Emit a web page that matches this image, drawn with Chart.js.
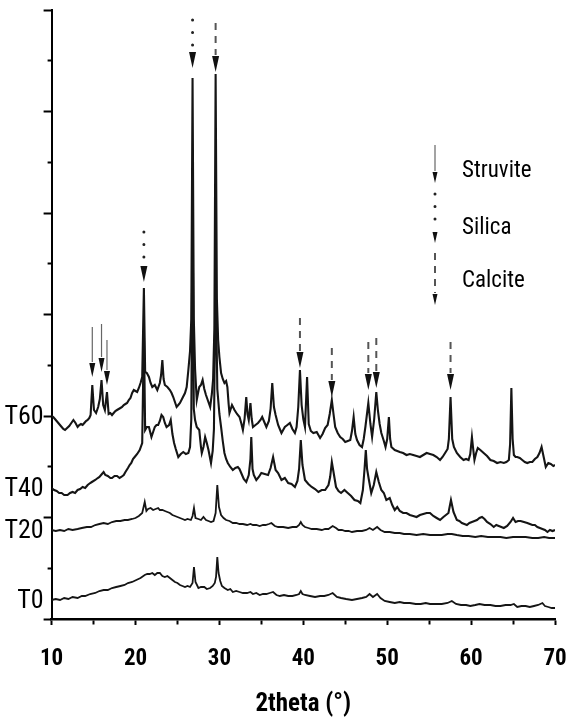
<!DOCTYPE html>
<html><head><meta charset="utf-8">
<script src="https://cdn.jsdelivr.net/npm/chart.js@4.4.1/dist/chart.umd.min.js"></script>
<style>html,body{margin:0;padding:0;background:#fff;}canvas{display:block;}</style>
</head><body>
<canvas id="c" width="566" height="717"></canvas>
<script>
// ---- data (2theta in degrees, intensity in arbitrary units, stacked offsets included) ----
const xTickLabels = [10, 20, 30, 40, 50, 60, 70];
const sampleNames = ['T0', 'T20', 'T40', 'T60'];
const T0 = [[10,19],[10.5,20],[11,19],[11.5,21],[12,20],[12.5,22],[13.1,21],[13.6,23],[14,23],[14.6,25],[15.2,26],[15.7,28],[16.2,29],[16.7,29],[17.2,31],[17.7,32],[18.2,33],[18.7,34],[19.1,36],[19.6,37],[20.1,39],[20.6,41],[21.1,44],[21.4,45],[21.7,45],[22,46],[22.3,44],[22.6,46],[22.9,46],[23.2,43],[23.5,42],[23.8,43],[24.1,41],[24.4,39],[24.7,37],[25,36],[25.3,34],[25.6,33],[25.9,32],[26.2,33],[26.5,32],[26.8,36],[26.97,52],[27.15,37],[27.5,31],[27.8,32],[28.2,32],[28.5,30],[28.9,31],[29.2,33],[29.45,36],[29.6,42],[29.75,62],[29.9,46],[30.1,38],[30.3,33],[30.6,31],[31,29],[31.3,30],[31.6,27],[32,28],[32.4,27],[32.8,26],[33.3,26],[33.7,27],[34,25],[34.4,26],[34.8,24],[35.2,25],[35.6,25],[36,26],[36.4,27],[36.8,24],[37.2,23],[37.7,24],[38.2,23],[38.7,23],[39.2,24],[39.5,25],[39.7,28],[39.9,25],[40.2,24],[40.8,23],[41.4,22],[42,23],[42.5,23],[43,24],[43.5,26],[44,22],[44.5,21],[45.1,20],[45.8,19],[46.4,20],[47,21],[47.5,22],[47.9,25],[48.3,22],[48.8,25],[49.2,21],[49.7,18],[50.3,17],[50.9,16],[51.5,17],[52,16],[52.7,16],[53.4,15],[54,15],[54.6,16],[55.1,15],[55.8,15],[56.5,15],[57.2,16],[57.7,18],[58.2,15],[58.8,14],[59.4,14],[59.9,13],[60.5,14],[61,15],[61.6,14],[62.3,14],[62.9,13],[63.5,13],[64.1,14],[64.7,14],[65.1,15],[65.5,12],[66,13],[66.5,13],[67,12],[67.5,13],[68,14],[68.5,16],[68.8,13],[69.2,12],[69.6,11],[70,11]];
const T20 = [[10,89],[10.5,88],[11,89],[11.5,88],[12,90],[12.5,89],[13.1,90],[13.6,91],[14.2,92],[14.7,92],[15.2,94],[15.7,95],[16.2,96],[16.7,95],[17.2,97],[17.7,98],[18.2,98],[18.7,99],[19.1,99],[19.6,100],[20,101],[20.4,103],[20.8,106],[21.1,117],[21.3,108],[21.5,110],[21.8,111],[22.1,109],[22.4,110],[22.7,111],[22.9,109],[23.2,109],[23.5,108],[23.8,107],[24.1,106],[24.4,104],[24.7,103],[25,102],[25.3,101],[25.6,100],[25.9,99],[26.2,100],[26.6,99],[26.8,103],[26.97,111],[27.15,101],[27.5,100],[27.8,99],[28.1,102],[28.4,99],[28.7,98],[29,97],[29.3,98],[29.55,106],[29.75,134],[29.95,112],[30.2,104],[30.5,101],[30.8,99],[31.2,98],[31.6,96],[32,96],[32.4,95],[32.8,95],[33.3,94],[33.7,95],[34,94],[34.4,94],[34.8,93],[35.2,94],[35.5,94],[35.9,95],[36.2,96],[36.6,93],[37,92],[37.6,92],[38.2,91],[38.7,92],[39.2,92],[39.5,94],[39.7,97],[39.9,94],[40.2,92],[40.6,91],[41,90],[41.6,90],[42.2,89],[42.6,90],[43,90],[43.5,93],[43.9,91],[44.2,89],[44.6,89],[45,88],[45.4,88],[45.8,87],[46.4,88],[47,88],[47.5,89],[47.9,91],[48.3,89],[48.8,92],[49.2,89],[49.7,87],[50.3,87],[50.9,86],[51.5,86],[52,85],[52.7,85],[53.5,84],[54.3,85],[55.1,84],[55.8,84],[56.5,84],[57.2,85],[57.7,85],[58.3,84],[59,83],[59.7,83],[60.5,82],[61.2,83],[62,82],[62.7,82],[63.5,82],[64.2,81],[65,82],[65.7,82],[66.5,82],[67.3,81],[68,81],[68.7,82],[69.3,81],[70,81]];
const T40 = [[10,131],[10.3,129],[10.6,128],[10.9,126],[11.2,126],[11.5,124],[11.9,124],[12.2,126],[12.5,127],[12.8,126],[13.1,129],[13.4,130],[13.7,132],[14,131],[14.3,134],[14.6,136],[14.8,137],[15.2,139],[15.5,141],[15.7,142],[16,145],[16.2,147],[16.4,144],[16.7,143],[17,141],[17.2,141],[17.5,143],[17.8,143],[18.1,141],[18.3,142],[18.6,144],[18.8,147],[19.1,151],[19.3,154],[19.5,156],[19.7,160],[19.9,162],[20.2,165],[20.5,169],[20.8,176],[21,289],[21.15,189],[21.35,192],[21.6,192],[21.9,182],[22.1,187],[22.3,192],[22.5,194],[22.7,194],[22.9,198],[23.1,204],[23.3,202],[23.5,196],[23.7,192],[24,194],[24.2,199],[24.4,185],[24.6,176],[24.8,170],[25.1,162],[25.4,165],[25.7,167],[26,165],[26.3,166],[26.5,172],[26.65,200],[26.8,419],[26.95,210],[27.1,199],[27.3,192],[27.6,189],[27.8,172],[27.9,166],[28.1,172],[28.3,182],[28.5,176],[28.7,169],[29,156],[29.2,168],[29.35,190],[29.55,351],[29.75,230],[30,205],[30.2,192],[30.4,178],[30.6,166],[30.8,160],[31,156],[31.3,152],[31.6,149],[31.9,151],[32.2,152],[32.4,150],[32.6,146],[32.9,140],[33.2,137],[33.5,144],[33.7,160],[33.8,182],[33.95,150],[34.1,144],[34.4,139],[34.7,142],[35,146],[35.4,145],[35.8,144],[36.1,151],[36.4,162],[36.7,149],[37,146],[37.4,139],[37.8,141],[38.2,136],[38.6,135],[39,132],[39.3,138],[39.5,150],[39.7,179],[39.9,154],[40.2,139],[40.6,135],[41,132],[41.4,130],[41.8,127],[42.2,129],[42.6,129],[43,134],[43.2,142],[43.4,157],[43.6,147],[43.9,132],[44.2,128],[44.5,126],[44.9,129],[45.3,126],[45.7,123],[46.1,119],[46.5,118],[46.8,116],[47.1,129],[47.3,150],[47.45,169],[47.6,150],[47.8,140],[48.1,126],[48.4,134],[48.7,147],[49,137],[49.3,129],[49.6,126],[49.9,119],[50.3,121],[50.6,114],[50.9,109],[51.2,112],[51.5,108],[51.9,106],[52.3,106],[52.7,104],[53.1,103],[53.5,102],[53.9,104],[54.3,105],[54.7,106],[55.1,106],[55.5,103],[55.9,101],[56.3,99],[56.7,102],[57,104],[57.3,106],[57.6,119],[57.9,107],[58.3,99],[58.6,98],[58.9,96],[59.2,95],[59.5,94],[59.8,96],[60.1,97],[60.4,98],[60.7,99],[61,101],[61.3,102],[61.6,100],[61.9,97],[62.3,95],[62.7,92],[63,94],[63.3,93],[63.6,92],[63.9,91],[64.3,93],[64.7,97],[65,101],[65.3,97],[65.6,98],[65.9,98],[66.3,97],[66.7,96],[67,95],[67.3,94],[67.6,94],[67.9,92],[68.2,91],[68.5,90],[68.8,89],[69.1,87],[69.4,89],[69.7,88],[70,89]];
const T60 = [[10,203],[10.2,202],[10.4,200],[10.6,198],[10.8,196],[11,194],[11.2,192],[11.4,190],[11.6,189],[11.85,191],[12.1,193],[12.35,196],[12.6,199],[12.85,196],[13.1,192],[13.3,194],[13.5,195],[13.7,194],[13.9,196],[14.1,198],[14.3,199],[14.5,201],[14.65,204],[14.85,234],[15.05,209],[15.3,206],[15.55,212],[15.75,220],[15.95,239],[16.15,214],[16.35,209],[16.6,227],[16.8,205],[17,206],[17.2,204],[17.4,206],[17.6,208],[17.8,209],[18,210],[18.2,211],[18.4,212],[18.6,214],[18.8,215],[19,216],[19.2,219],[19.4,221],[19.6,226],[19.8,229],[20,228],[20.2,227],[20.4,231],[20.6,236],[20.8,242],[21,331],[21.15,247],[21.35,246],[21.6,242],[21.8,236],[22,232],[22.3,234],[22.6,229],[22.9,236],[23.05,244],[23.2,259],[23.35,240],[23.5,234],[23.8,232],[24.1,229],[24.3,226],[24.5,222],[24.7,217],[24.9,212],[25.1,214],[25.3,216],[25.6,221],[25.9,226],[26.1,232],[26.3,249],[26.5,268],[26.65,300],[26.8,541],[26.95,300],[27.1,250],[27.3,219],[27.5,228],[27.6,232],[27.8,234],[28,239],[28.2,230],[28.4,224],[28.65,218],[28.9,212],[29.1,225],[29.25,240],[29.4,290],[29.55,545],[29.7,320],[29.85,279],[30,262],[30.2,246],[30.4,240],[30.6,236],[30.8,238],[30.95,232],[31.1,215],[31.2,206],[31.5,214],[31.8,209],[32.1,205],[32.4,202],[32.6,196],[32.8,189],[33,200],[33.2,222],[33.35,205],[33.5,199],[33.7,216],[33.85,200],[34,192],[34.3,194],[34.6,196],[34.9,199],[35.1,202],[35.4,196],[35.6,192],[35.9,198],[36.1,210],[36.3,236],[36.5,212],[36.7,204],[37,194],[37.2,190],[37.4,186],[37.6,189],[37.8,192],[38.1,194],[38.4,196],[38.7,190],[39,186],[39.2,192],[39.4,212],[39.6,249],[39.8,214],[40,200],[40.2,192],[40.45,242],[40.65,195],[40.9,188],[41.2,186],[41.6,187],[42,181],[42.3,185],[42.6,191],[42.9,194],[43.15,205],[43.4,219],[43.6,205],[43.8,192],[44.1,186],[44.4,182],[44.7,180],[45,177],[45.3,178],[45.6,179],[45.8,188],[46,202],[46.2,185],[46.4,179],[46.7,174],[47,172],[47.2,180],[47.4,192],[47.75,216],[48,195],[48.2,182],[48.45,200],[48.7,227],[48.9,208],[49.1,195],[49.3,186],[49.6,178],[49.8,172],[50,180],[50.2,202],[50.35,180],[50.5,172],[50.9,169],[51.2,168],[51.5,167],[51.9,166],[52.3,164],[52.7,165],[53.1,164],[53.5,163],[53.9,162],[54.3,164],[54.7,166],[55.1,165],[55.5,164],[55.9,162],[56.3,159],[56.6,162],[56.9,166],[57.2,170],[57.35,180],[57.55,222],[57.75,180],[57.95,172],[58.3,166],[58.7,162],[59.1,159],[59.4,160],[59.7,159],[59.9,165],[60.1,182],[60.25,170],[60.4,159],[60.6,166],[60.8,171],[61.1,169],[61.5,166],[61.9,163],[62.3,159],[62.7,158],[63.1,156],[63.5,157],[63.9,156],[64.2,157],[64.5,159],[64.65,175],[64.8,231],[64.95,180],[65.1,164],[65.3,162],[65.5,162],[65.8,161],[66.1,159],[66.4,157],[66.7,156],[67,157],[67.3,157],[67.6,160],[67.9,162],[68.15,166],[68.4,172],[68.65,162],[68.9,152],[69.2,156],[69.5,155],[69.8,153],[70,154]];
// phase markers: [2theta, tail intensity, tip intensity]
const struviteArrows = [[14.85,292,242],[15.95,295,247],[16.6,279,234]];
const silicaArrows = [[21.0,387,337],[26.8,599,551]];
const calciteArrows = [[29.55,596,547],[39.6,301,251],[43.4,271,222],[47.75,277,229],[48.7,281,231],[57.55,277,229]];
const legendNames = ['Struvite','Silica','Calcite'];
const yMax = 609, yTickCount = 12;

// ---- font choice: condensed Arial-like if present ----
function fontAvailable(name){
  const c=document.createElement('canvas').getContext('2d');
  const s='Struvite Calcite 2theta T60 0123456789';
  c.font='40px monospace'; const w1=c.measureText(s).width;
  c.font='40px "'+name+'", monospace'; const w2=c.measureText(s).width;
  c.font='40px serif'; const w3=c.measureText(s).width;
  c.font='40px "'+name+'", serif'; const w4=c.measureText(s).width;
  return (w1!==w2) || (w3!==w4);
}
const cands=['Liberation Sans Narrow','Arial Narrow','Roboto Condensed'];
const found=cands.filter(fontAvailable);
const FAM = found.length ? ('"'+found[0]+'", "Liberation Sans", Arial, sans-serif') : '"Liberation Sans", Arial, sans-serif';

const toXY = arr => arr.map(p => ({x:p[0], y:p[1]}));
const series = [T0, T20, T40, T60];
const widths = [1.8, 1.8, 2.1, 2.1];

const overlay = {
  id:'overlay',
  afterDatasetsDraw(chart){
    const {ctx, scales:{x, y}} = chart;
    function arrow(px, pTail, pTip, style, hw, hh){
      ctx.save();
      if(style==='solid'){ctx.strokeStyle='#666';ctx.lineWidth=1.2;ctx.setLineDash([]);}
      else if(style==='dotted'){ctx.strokeStyle='#222';ctx.lineWidth=3;ctx.lineCap='round';ctx.setLineDash([0.01,12.5]);}
      else {ctx.strokeStyle='#555';ctx.lineWidth=2;ctx.setLineDash([7,6]);}
      ctx.beginPath();ctx.moveTo(px,pTail);ctx.lineTo(px,pTip-hh-1);ctx.stroke();
      ctx.setLineDash([]);ctx.fillStyle='#111';
      ctx.beginPath();ctx.moveTo(px-hw/2,pTip-hh);ctx.lineTo(px+hw/2,pTip-hh);ctx.lineTo(px,pTip);ctx.closePath();ctx.fill();
      ctx.restore();
    }
    struviteArrows.forEach(a=>arrow(x.getPixelForValue(a[0]),y.getPixelForValue(a[1]),y.getPixelForValue(a[2]),'solid',6,14));
    silicaArrows.forEach(a=>arrow(x.getPixelForValue(a[0]),y.getPixelForValue(a[1]),y.getPixelForValue(a[2]),'dotted',7,16));
    calciteArrows.forEach(a=>arrow(x.getPixelForValue(a[0]),y.getPixelForValue(a[1]),y.getPixelForValue(a[2]),'dashed',7,16));
    // sample labels at start of each trace
    ctx.save();
    ctx.fillStyle='#000';ctx.font='26px '+FAM;ctx.textAlign='right';ctx.textBaseline='middle';
    series.forEach((s,i)=>ctx.fillText(sampleNames[i], chart.chartArea.left-8, y.getPixelForValue(s[0][1])+1));
    ctx.restore();
    // legend
    const lx = 435, tx = 462;
    const rows = [{style:'solid',t:145,tip:183,ty:170},{style:'dotted',t:194,tip:243,ty:227},{style:'dashed',t:253,tip:305,ty:280}];
    rows.forEach((r,i)=>{
      arrow(lx, r.t, r.tip, r.style, 5, 11);
      ctx.save();ctx.fillStyle='#000';ctx.font='23px '+FAM;ctx.textAlign='left';ctx.textBaseline='middle';
      ctx.fillText(legendNames[i], tx, r.ty+1);ctx.restore();
    });
  }
};

new Chart(document.getElementById('c'), {
  type:'line',
  data:{datasets: series.map((s,i)=>({label:sampleNames[i], data:toXY(s), borderColor:'#151515', borderWidth:widths[i], pointRadius:0, tension:0, fill:false}))},
  options:{
    responsive:false, animation:false, events:[],
    layout:{padding:{top:10,right:11,left:0,bottom:0}},
    plugins:{legend:{display:false}, tooltip:{enabled:false}},
    scales:{
      x:{type:'linear', min:10, max:70,
        ticks:{stepSize:5, autoSkip:false, maxRotation:0, padding:20, color:'#000',
          font:{family:FAM, size:23, weight:'bold'},
          callback:v=> xTickLabels.includes(v) ? String(v) : ''},
        grid:{drawOnChartArea:false, tickLength:6, tickWidth:2, tickColor:'#000',
          tickBorderDash:c=> (c.index%2===1) ? [4,100] : []},
        border:{color:'#000', width:2.5},
        title:{display:true, text:'2theta (°)', color:'#000', font:{family:FAM, size:25, weight:'bold'}, padding:{top:0,bottom:-3}},
        afterFit:s=>{s.height=98; s.paddingLeft=0; s.paddingRight=0;}
      },
      y:{type:'linear', min:0, max:yMax,
        afterBuildTicks:s=>{s.ticks=Array.from({length:yTickCount+1},(_,i)=>({value:i*yMax/yTickCount}));},
        ticks:{display:false},
        grid:{drawOnChartArea:false, tickLength:8, tickWidth:2, tickColor:'#000',
          tickBorderDash:c=> (c.index%2===1) ? [0,4,4,100] : []},
        border:{color:'#000', width:2},
        afterFit:s=>{s.width=51.6; s.paddingTop=0; s.paddingBottom=0;}
      }
    }
  },
  plugins:[overlay]
});
</script></body></html>
